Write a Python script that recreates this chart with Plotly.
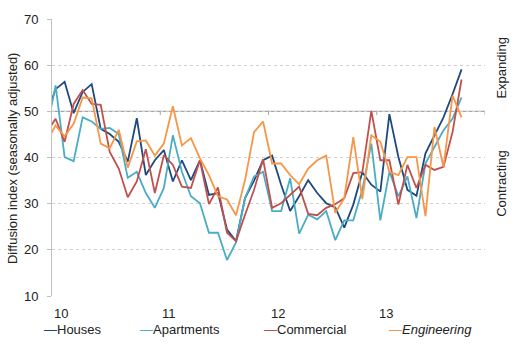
import plotly.graph_objects as go

# month index: -1 = Dec 2009 (clipped), 0 = Jan 2010 ... 45 = Oct 2013
months = list(range(-1, 46))
year_labels = ["10", "11", "12", "13"]
year_starts = [-0.4, 11.6, 23.6, 35.6]

houses = [49.2, 54.8, 56.4, 49.6, 54.2, 55.9, 46.2, 45.1, 43.4, 39.1, 48.5, 36.2, 39.4,
          41.6, 34.8, 39.4, 35.1, 39.4, 31.9, 32.3, 24.4, 21.9, 31.2, 35.0, 39.4,
          40.4, 34.1, 28.4, 31.6, 35.1, 32.3, 30.1, 29.2, 24.8, 29.8, 36.8,
          34.1, 32.6, 49.4, 40.1, 33.0, 31.7, 40.9, 44.8, 48.7, 53.7, 59.1]
apartments = [46.0, 55.6, 40.1, 39.2, 48.7, 47.8, 46.2, 46.4, 45.1, 35.6, 36.9, 32.3, 29.1,
              33.4, 44.8, 36.9, 31.6, 30.1, 23.7, 23.7, 17.8, 21.6, 31.2, 35.9, 36.9,
              28.4, 28.4, 35.5, 23.5, 27.6, 26.6, 28.4, 22.1, 26.4, 26.4, 33.0,
              43.0, 26.4, 36.9, 31.6, 35.9, 26.9, 38.7, 42.3, 45.9, 48.4, 53.0]
commercial = [45.4, 48.4, 43.4, 51.6, 54.6, 51.6, 51.4, 41.2, 37.6, 31.4, 34.8, 41.8, 32.3,
              40.5, 38.4, 33.7, 33.4, 39.4, 29.9, 33.5, 23.7, 21.9, 27.6, 33.0, 39.6,
              29.1, 30.1, 31.9, 33.7, 27.8, 27.5, 29.1, 29.9, 31.2, 36.6, 36.8,
              50.1, 39.4, 39.4, 29.8, 38.4, 33.4, 38.4, 37.3, 38.0, 45.5, 56.9]
engineering = [43.5, 46.9, 44.6, 47.3, 53.0, 52.8, 43.0, 42.0, 46.0, 37.8, 43.5, 43.7, 40.4,
               43.0, 51.1, 42.6, 44.2, 39.8, 36.2, 31.6, 30.9, 27.5, 35.1, 45.5, 47.8,
               38.7, 38.7, 36.2, 34.2, 37.6, 39.4, 40.4, 28.0, 31.2, 44.4, 31.0,
               44.8, 43.4, 36.9, 36.2, 40.1, 40.1, 27.3, 46.6, 38.0, 53.4, 48.7]

series_names = ["Houses", "Apartments", "Commercial", "Engineering"]
series_values = [houses, apartments, commercial, engineering]
colors = ["#1F497D", "#4BACC6", "#C0504D", "#F79646"]

FONT = "Liberation Sans"
TXT = "#222222"

fig = go.Figure()
for name, vals, col in zip(series_names, series_values, colors):
    fig.add_trace(go.Scatter(x=months, y=vals, mode="lines", name=name,
                             line=dict(color=col, width=1.8), showlegend=False,
                             cliponaxis=True))

# axis line at 50 with small year ticks
shapes = [dict(type="line", xref="paper", yref="y", x0=0, x1=1, y0=50, y1=50,
               line=dict(color="#A6A6A6", width=1.2), layer="below")]
for xs in year_starts[1:] + [47.6]:
    shapes.append(dict(type="line", xref="x", yref="y", x0=xs, x1=xs, y0=49.2, y1=50.1,
                       line=dict(color="#A6A6A6", width=1)))

annotations = []
for lab, xs in zip(year_labels, year_starts):
    annotations.append(dict(x=xs, y=-0.064, xref="x", yref="paper", text=lab,
                            showarrow=False, xanchor="left", yanchor="middle",
                            font=dict(family=FONT, size=13, color=TXT)))

legend_x = [42, 138, 262, 387]
for name, col, px in zip(series_names, colors, legend_x):
    label = f"<i>{name}</i>" if name == "Engineering" else name
    annotations.append(dict(x=(px - 52) / 433, y=-0.122, xref="paper", yref="paper",
                            text=f"<span style='color:{col}'>—</span>{label}",
                            showarrow=False, xanchor="left", yanchor="middle",
                            font=dict(family=FONT, size=13, color=TXT)))

annotations.append(dict(x=(12 - 52) / 433, y=0.498, xref="paper", yref="paper",
                        text="Diffusion index (seasonally adjusted)", textangle=-90,
                        showarrow=False, xanchor="center", yanchor="middle",
                        font=dict(family=FONT, size=13, color=TXT)))
annotations.append(dict(x=(502 - 52) / 433, y=0.821, xref="paper", yref="paper",
                        text="Expanding", textangle=-90, showarrow=False,
                        xanchor="center", yanchor="middle",
                        font=dict(family=FONT, size=13, color=TXT)))
annotations.append(dict(x=(502 - 52) / 433, y=0.405, xref="paper", yref="paper",
                        text="Contracting", textangle=-90, showarrow=False,
                        xanchor="center", yanchor="middle",
                        font=dict(family=FONT, size=13, color=TXT)))

fig.update_layout(
    width=520, height=348,
    margin=dict(l=52, r=35, t=17, b=52),
    paper_bgcolor="white", plot_bgcolor="white",
    shapes=shapes, annotations=annotations,
    xaxis=dict(range=[-0.4, 47.6], showgrid=False, zeroline=False,
               showticklabels=False, ticks="", showline=False, fixedrange=True),
    yaxis=dict(range=[10, 70], dtick=10, tick0=10, showgrid=True, gridcolor="#D0D0D0",
               griddash="dot", gridwidth=1, zeroline=False, showline=True,
               linecolor="#BFBFBF", linewidth=1, ticks="outside", ticklen=4,
               tickcolor="#BFBFBF", ticklabelstandoff=6,
               tickfont=dict(family=FONT, size=13, color=TXT), fixedrange=True),
)

fig.write_html("out.html")
